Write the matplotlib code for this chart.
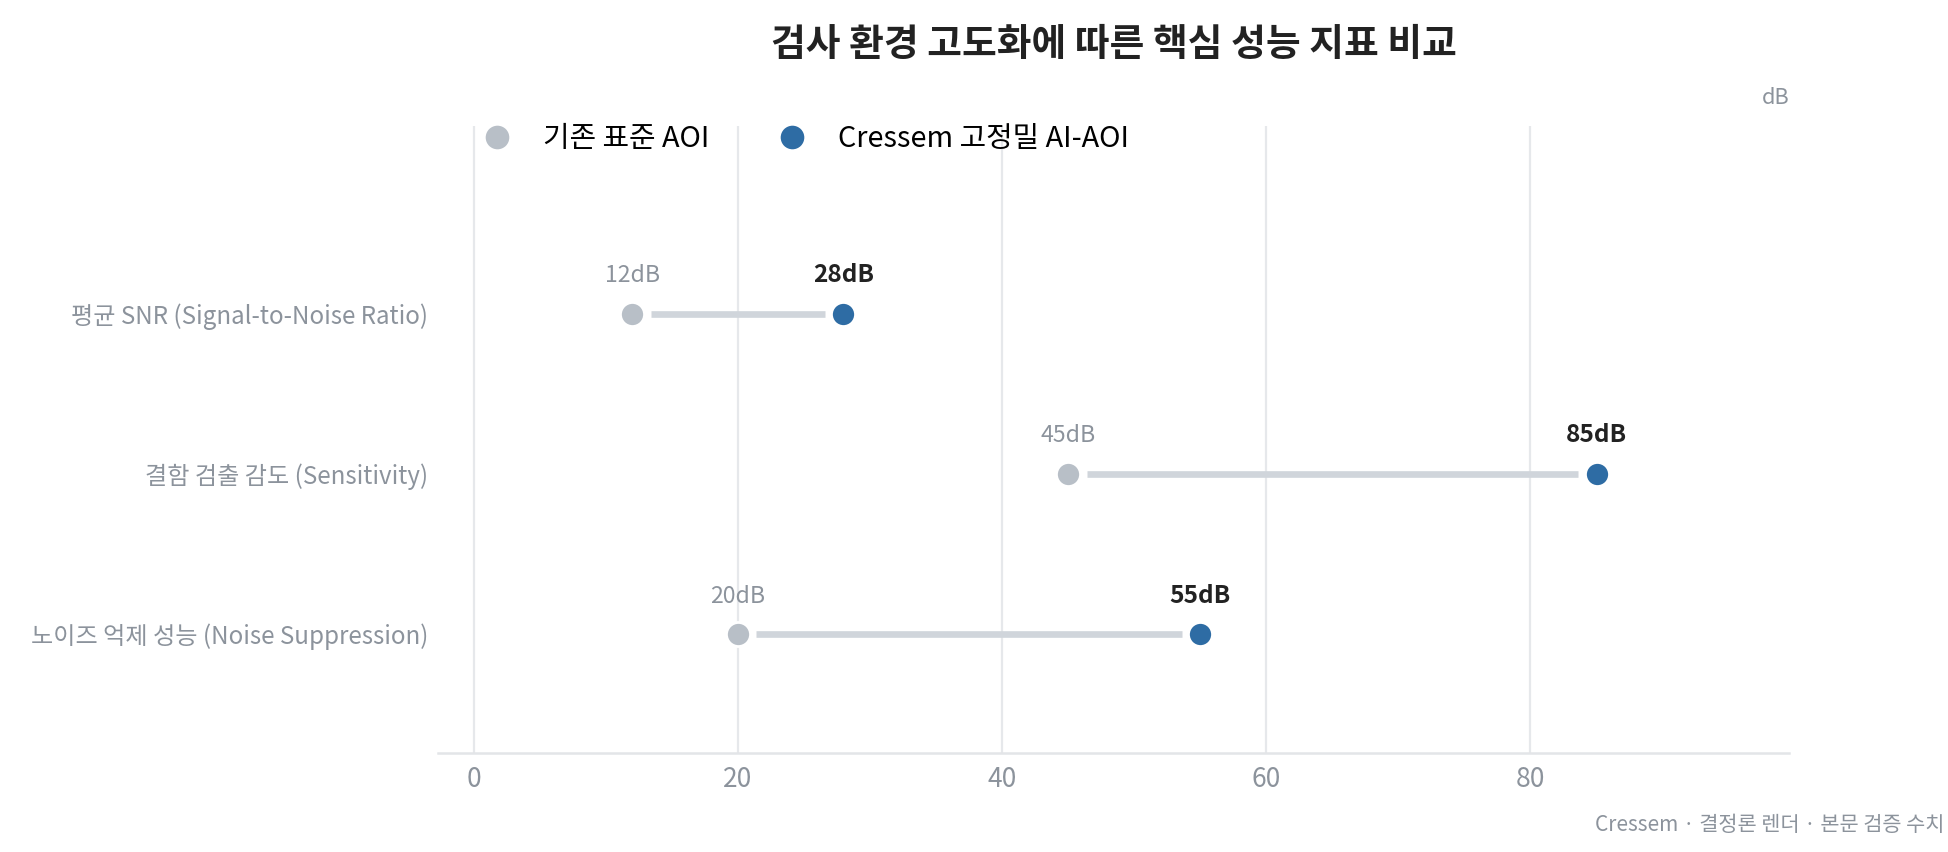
import matplotlib
matplotlib.use("Agg")
import matplotlib.pyplot as plt
from matplotlib.lines import Line2D

plt.rcParams['font.family'] = ['Noto Sans CJK KR', 'DejaVu Sans']

categories = ["평균 SNR (Signal-to-Noise Ratio)", "결함 검출 감도 (Sensitivity)", "노이즈 억제 성능 (Noise Suppression)"]
baseline = [12, 45, 20]
improved = [28, 85, 55]
series_names = ["기존 표준 AOI", "Cressem 고정밀 AI-AOI"]
xticks = [0, 20, 40, 60, 80]
unit = "dB"
title = "검사 환경 고도화에 따른 핵심 성능 지표 비교"
footer = "Cressem · 결정론 렌더 · 본문 검증 수치"

C_BASE = "#b8bfc7"
C_IMP = "#2e6ca4"
C_LINE = "#d0d5db"
C_GRAY = "#8c939c"
C_DARK = "#222222"

fig = plt.figure(figsize=(9.74, 4.26), dpi=200)
ax = fig.add_axes([0.2248, 0.1167, 0.6938, 0.7353])

ypos = list(range(len(categories)))
gap = 1.4
for y, b, v in zip(ypos, baseline, improved):
    ax.plot([b + gap, v - gap], [y, y], color=C_LINE, lw=2.4, solid_capstyle='butt', zorder=2)

ax.scatter(baseline, ypos, s=75, color=C_BASE, edgecolor='white', linewidth=1.0, zorder=3)
ax.scatter(improved, ypos, s=75, color=C_IMP, edgecolor='white', linewidth=1.0, zorder=3)

for y, b, v in zip(ypos, baseline, improved):
    ax.annotate(f"{b}{unit}", (b, y), xytext=(0, 9.5), textcoords='offset points',
                ha='center', va='bottom', fontsize=8.3, color=C_GRAY)
    ax.annotate(f"{v}{unit}", (v, y), xytext=(0, 9.5), textcoords='offset points',
                ha='center', va='bottom', fontsize=8.8, color=C_DARK, fontweight='bold')

ax.set_xlim(-2.7, 99.6)
ax.set_ylim(2.74, -1.17)
ax.set_yticks(ypos)
ax.set_yticklabels(categories, fontsize=8.7, color=C_GRAY)
ax.set_xticks(xticks)
ax.set_xticklabels([str(t) for t in xticks], fontsize=9.5, color=C_GRAY)
ax.tick_params(axis='both', length=0)
ax.tick_params(axis='y', pad=3.6)
ax.tick_params(axis='x', pad=5)
ax.grid(axis='x', color='#e6e8eb', lw=0.8, zorder=0)
ax.set_axisbelow(True)
for s in ['top', 'right', 'left']:
    ax.spines[s].set_visible(False)
ax.spines['bottom'].set_color('#e3e5e8')
ax.spines['bottom'].set_linewidth(0.9)

handles = [Line2D([], [], marker='o', ls='', markersize=8.5, markerfacecolor=C_BASE, markeredgecolor='none'),
           Line2D([], [], marker='o', ls='', markersize=8.5, markerfacecolor=C_IMP, markeredgecolor='none')]
ax.legend(handles, series_names, loc='upper left', bbox_to_anchor=(0.003, 1.045), ncol=2,
          frameon=False, fontsize=10.4, handletextpad=0.6, columnspacing=1.85)

ax.text(1.0, 1.028, unit, transform=ax.transAxes, ha='right', va='bottom', fontsize=7.8, color=C_GRAY)
fig.text(0.5717, 0.948, title, ha='center', va='center', fontsize=13.6, fontweight='bold', color=C_DARK)
fig.text(0.998, 0.032, footer, ha='right', va='center', fontsize=7.5, color=C_GRAY)

fig.savefig("out.png", dpi=200)
